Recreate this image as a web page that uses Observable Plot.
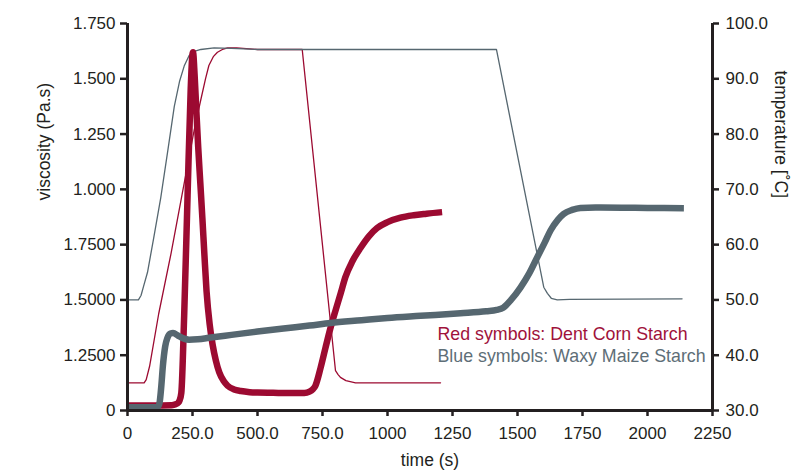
<!DOCTYPE html>
<html>
<head>
<meta charset="utf-8">
<script src="https://cdn.jsdelivr.net/npm/d3@7"></script>
<script src="https://cdn.jsdelivr.net/npm/@observablehq/plot@0.6"></script>
<style>
  body { margin: 0; background: #fff; }
</style>
</head>
<body>
<div id="chart"></div>
<script>
// ---------- data ----------
// Dent Corn Starch viscosity (Pa.s)
const dentViscTime  = [0, 100, 170, 185, 195, 200, 207, 218, 231, 243, 249, 252, 258, 265, 272, 280, 288, 296, 304, 316, 327, 340, 353, 370, 385, 410, 436, 470, 500, 560, 620, 680, 700, 712, 723, 742, 762, 780, 800, 820, 838, 865, 896, 930, 960, 1000, 1050, 1100, 1150, 1210];
const dentViscValue = [0.023, 0.023, 0.024, 0.028, 0.035, 0.045, 0.08, 0.43, 0.97, 1.45, 1.60, 1.62, 1.52, 1.35, 1.19, 1.03, 0.87, 0.70, 0.54, 0.39, 0.30, 0.225, 0.172, 0.133, 0.112, 0.095, 0.088, 0.083, 0.081, 0.080, 0.079, 0.079, 0.085, 0.095, 0.113, 0.19, 0.286, 0.37, 0.452, 0.53, 0.603, 0.675, 0.735, 0.79, 0.825, 0.852, 0.872, 0.883, 0.89, 0.897];

// Waxy Maize Starch viscosity (Pa.s)
const waxyViscTime  = [0, 100, 118, 124, 130, 136, 145, 154, 165, 175, 195, 215, 237, 270, 320, 400, 500, 600, 700, 781, 900, 1000, 1127, 1281, 1380, 1420, 1445, 1475, 1512, 1545, 1576, 1605, 1627, 1655, 1678, 1710, 1742, 1800, 1900, 2000, 2140];
const waxyViscValue = [0.015, 0.015, 0.018, 0.04, 0.11, 0.2, 0.29, 0.33, 0.348, 0.35, 0.338, 0.326, 0.32, 0.322, 0.33, 0.342, 0.357, 0.371, 0.384, 0.396, 0.408, 0.418, 0.428, 0.44, 0.449, 0.455, 0.465, 0.5, 0.557, 0.62, 0.693, 0.76, 0.814, 0.862, 0.889, 0.907, 0.916, 0.918, 0.917, 0.916, 0.915];

// Dent Corn Starch temperature (°C)
const dentTempTime  = [0, 64, 72, 85, 120, 167, 210, 256, 280, 300, 313, 330, 346, 365, 385, 420, 500, 672, 800, 810, 819, 840, 877, 1000, 1204];
const dentTempValue = [35, 35, 35.6, 38, 47.5, 58.3, 69.1, 80.6, 85.8, 90.0, 92.4, 94.0, 94.8, 95.3, 95.6, 95.6, 95.3, 95.3, 37.2, 36.5, 36.0, 35.4, 35.0, 35.0, 35.0];

// Waxy Maize Starch temperature (°C)
const waxyTempTime  = [0, 42, 52, 62, 77, 100, 128, 155, 180, 200, 218, 237, 260, 282, 333, 400, 500, 1419, 1601, 1615, 1630, 1653, 1700, 2133];
const waxyTempValue = [50, 50, 50.8, 52.5, 55, 61, 68.5, 77, 85, 89.5, 92.3, 94.2, 95.0, 95.3, 95.6, 95.5, 95.3, 95.3, 52.3, 51.2, 50.3, 50.0, 50.1, 50.2];

// axes
const xTicks  = [0, 250, 500, 750, 1000, 1250, 1500, 1750, 2000, 2250];
const xLabels = ["0", "250.0", "500.0", "750.0", "1000", "1250", "1500", "1750", "2000", "2250"];
const yTicks  = [0, 0.25, 0.5, 0.75, 1.0, 1.25, 1.5, 1.75];
const yLabels = ["0", "1.2500", "1.5000", "1.7500", "1.000", "1.250", "1.500", "1.750"];
const tempTicks  = [30, 40, 50, 60, 70, 80, 90, 100];
const tempLabels = ["30.0", "40.0", "50.0", "60.0", "70.0", "80.0", "90.0", "100.0"];
const tempDomain = [30, 100];
const viscDomain = [0, 1.75];

const xTitle = "time (s)";
const yTitle = "viscosity (Pa.s)";
const y2Title = "temperature [˚C]";
const legendLabels = ["Red symbols: Dent Corn Starch", "Blue symbols: Waxy Maize Starch"];

// ---------- build tables ----------
const zip = (ts, vs) => ts.map((t, i) => ({t, v: vs[i]}));
const dentVisc = zip(dentViscTime, dentViscValue);
const waxyVisc = zip(waxyViscTime, waxyViscValue);
const dentTemp = zip(dentTempTime, dentTempValue);
const waxyTemp = zip(waxyTempTime, waxyTempValue);

// temperature → left (viscosity) scale for the dual axis
const tempToVisc = d3.scaleLinear().domain(tempDomain).range(viscDomain);

const RED = "#9c0a31";
const BLUE = "#566770";
const INK = "#231f20";

const chart = Plot.plot({
  width: 805,
  height: 473,
  marginTop: 23,
  marginBottom: 63,
  marginLeft: 127,
  marginRight: 93,
  style: {
    fontFamily: "'Liberation Sans', Arial, Helvetica, sans-serif",
    fontSize: "17px",
    color: INK,
    background: "#fff"
  },
  x: {domain: [0, 2250]},
  y: {domain: viscDomain},
  marks: [
    Plot.line(dentTemp, {x: "t", y: d => tempToVisc(d.v), stroke: RED, strokeWidth: 1.3}),
    Plot.line(waxyTemp, {x: "t", y: d => tempToVisc(d.v), stroke: BLUE, strokeWidth: 1.3}),
    Plot.line(dentVisc, {x: "t", y: "v", stroke: RED, strokeWidth: 6.5, curve: "monotone-x", strokeLinecap: "butt"}),
    Plot.line(waxyVisc, {x: "t", y: "v", stroke: BLUE, strokeWidth: 6.5, curve: "monotone-x", strokeLinecap: "butt"}),
    Plot.ruleX([0], {stroke: INK, strokeWidth: 3}),
    Plot.ruleX([2250], {stroke: INK, strokeWidth: 3}),
    Plot.ruleY([0], {stroke: INK, strokeWidth: 3}),
    Plot.axisX({ticks: xTicks, tickFormat: d => xLabels[xTicks.indexOf(d)], tickSize: 6, tickPadding: 10, strokeWidth: 2.5, label: null}),
    Plot.axisY({ticks: yTicks, tickFormat: d => yLabels[yTicks.indexOf(d)], anchor: "left", tickSize: 7, tickPadding: 5, strokeWidth: 2.5, label: null}),
    Plot.axisY(tempTicks, {y: d => tempToVisc(d), anchor: "right", tickFormat: d => tempLabels[tempTicks.indexOf(d)], tickSize: 6, tickPadding: 7, strokeWidth: 2.5, label: null}),
    Plot.text([xTitle], {frameAnchor: "bottom", dx: 10, dy: 55, fontSize: 17.5, fill: INK}),
    Plot.text([yTitle], {frameAnchor: "left", rotate: -90, dx: -83, dy: -16.5, fontSize: 17.5, fill: INK}),
    Plot.text([y2Title], {frameAnchor: "right", rotate: 90, dx: 68, dy: -19, fontSize: 17.5, fill: INK}),
    Plot.text([legendLabels[0]], {frameAnchor: "bottom-left", textAnchor: "start", dx: 310, dy: -70.6, fontSize: 17.8, fill: "#a0123b"}),
    Plot.text([legendLabels[1]], {frameAnchor: "bottom-left", textAnchor: "start", dx: 310, dy: -48.6, fontSize: 17.8, fill: "#5e6e77"})
  ]
});

document.getElementById("chart").appendChild(chart);
</script>
</body>
</html>
